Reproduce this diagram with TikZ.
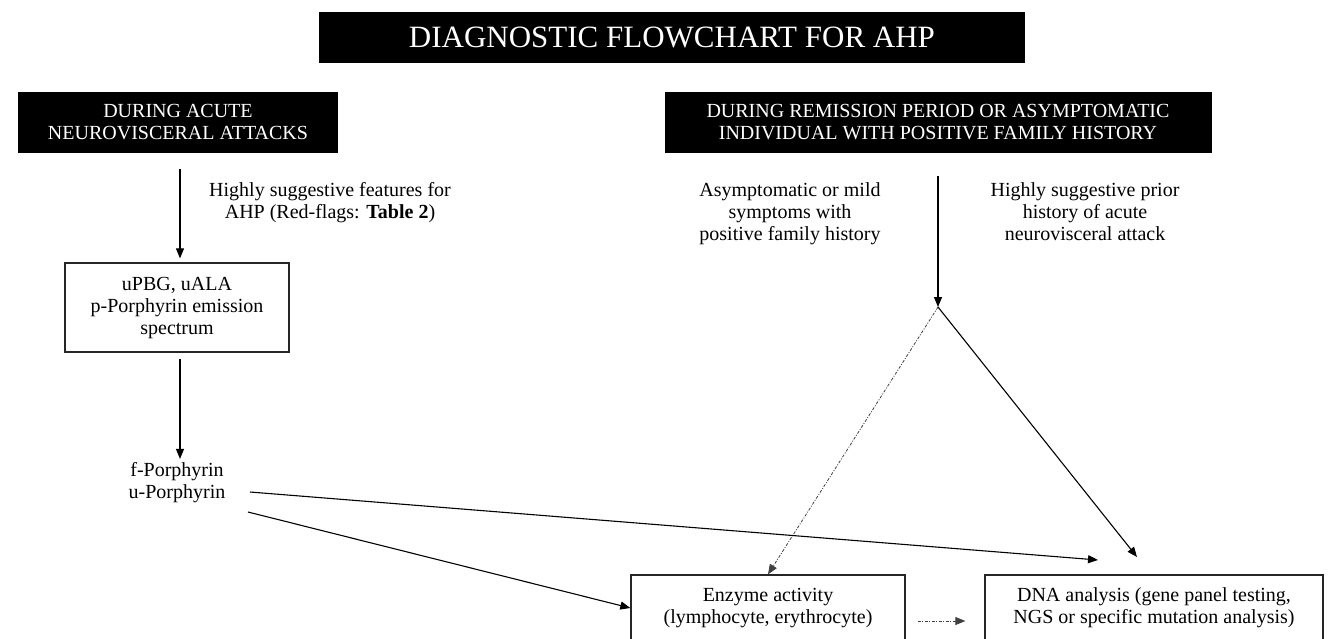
\documentclass[tikz,border=0pt]{standalone}
\usepackage{fontspec}
\setmainfont{Liberation Serif}
\usetikzlibrary{arrows.meta}

\tikzset{
    blackbox/.style={fill=black, text=white, inner sep=0pt, align=center},
    testbox/.style={draw=black!85, line width=1.3pt, inner sep=0pt, align=center},
    dashdot/.style={line width=0.8pt, black!75, dash pattern={on 3pt off 1.5pt on 1pt off 1.5pt}}
}

\begin{document}
\begin{tikzpicture}[x=1pt, y=-1pt, >={Triangle[length=10pt, width=8pt]}, line width=1.1pt,
    every node/.append style={font=\fontsize{20}{22}\selectfont, align=center}]
    \useasboundingbox (0,0) rectangle (1335,638);

    % Headings
    \node[blackbox, minimum width=706pt, minimum height=51pt, font=\fontsize{31}{36}\selectfont] (title) at (672,37) {DIAGNOSTIC FLOWCHART FOR AHP};
    \node[blackbox, minimum width=320pt, minimum height=61pt] (acute) at (178,122.5) {DURING ACUTE\\NEUROVISCERAL ATTACKS};
    \node[blackbox, minimum width=547pt, minimum height=61pt] (remission) at (938,122.5) {DURING REMISSION PERIOD OR ASYMPTOMATIC\\INDIVIDUAL WITH POSITIVE FAMILY HISTORY};

    % Acute attack branch
    \node[testbox, minimum width=224pt, minimum height=89pt] (urine) at (177,307.5) {uPBG, uALA\\p-Porphyrin emission\\spectrum};
    \node (porph) at (177,483) {f-Porphyrin\\u-Porphyrin};
    \node (redflags) at (330,203) {Highly suggestive features for\\AHP (Red-flags: \textbf{Table 2})};

    % Remission branch
    \node (mild) at (790,214) {Asymptomatic or mild\\symptoms with\\positive family history};
    \node (prior) at (1085,212) {Highly suggestive prior\\history of acute\\neurovisceral attack};

    % Tests
    \node[testbox, minimum width=274pt, minimum height=66pt] (enzyme) at (768,608) {Enzyme activity\\(lymphocyte, erythrocyte)};
    \node[testbox, minimum width=338pt, minimum height=66pt] (dna) at (1154,608) {DNA analysis (gene panel testing,\\NGS or specific mutation analysis)};

    \coordinate (split) at (938,307);
    \coordinate (dnatop) at (1137,557);
    \coordinate (dnaleft) at (1098,560);

    % Connectors
    \draw[->, shorten <=15pt, shorten >=4pt] ([xshift=2pt]acute.south) -- ([xshift=3pt]urine.north);
    \draw[->, shorten <=6pt] ([xshift=3pt]urine.south) -- ([xshift=3pt]porph.north);
    \draw[->, shorten <=22pt] (remission.south) -- (split);
    \draw[dashdot, ->] (split) -- (enzyme.north);
    \draw[->] (split) -- (dnatop);
    \draw[->] ([xshift=73pt, yshift=-9pt]porph.center) -- (dnaleft);
    \draw[->] ([xshift=71pt, yshift=-29pt]porph.center) -- (enzyme.west);
    \draw[dashdot, ->] ([xshift=12pt, yshift=-13pt]enzyme.east) -- ([xshift=-19pt, yshift=-13pt]dna.west);
\end{tikzpicture}
\end{document}
